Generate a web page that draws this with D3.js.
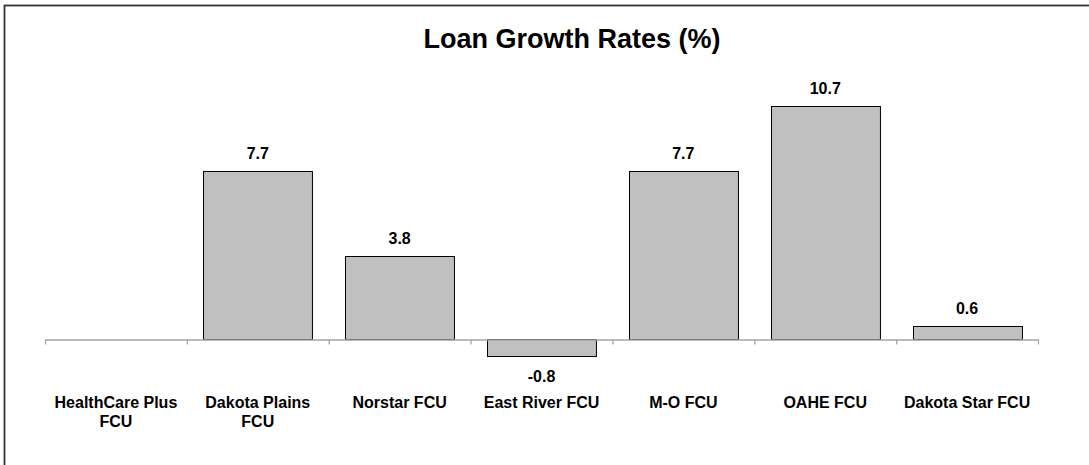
<!DOCTYPE html>
<html>
<head>
<meta charset="utf-8">
<script src="https://cdn.jsdelivr.net/npm/d3@7"></script>
<style>
  html, body { margin: 0; padding: 0; background: #fff; }
  svg { display: block; font-family: "Liberation Sans", Arial, sans-serif; }
</style>
</head>
<body>
<svg id="chart" width="1089" height="465"></svg>
<script>
const title = "Loan Growth Rates (%)";
const categories = [
  ["HealthCare Plus", "FCU"],
  ["Dakota Plains", "FCU"],
  ["Norstar FCU"],
  ["East River FCU"],
  ["M-O FCU"],
  ["OAHE FCU"],
  ["Dakota Star FCU"]
];
const values = [null, 7.7, 3.8, -0.8, 7.7, 10.7, 0.6];

const svg = d3.select("#chart");
const W = 1089, H = 465;

// outer chart border (right/bottom edges fall outside the picture)
svg.append("rect")
  .attr("x", 4.5).attr("y", 5.5)
  .attr("width", W + 10).attr("height", H + 10)
  .attr("fill", "none").attr("stroke", "#333").attr("stroke-width", 1.8);

const left = 45, right = 1038;
const keys = categories.map((c, i) => i);

const x = d3.scaleBand()
  .domain(keys)
  .range([left, right])
  .paddingInner(0.232)
  .paddingOuter(0.116);

const y = d3.scaleLinear()
  .domain([0, 10.7])
  .range([339, 106]);

const fmt = d3.formatLocale({ decimal: ".", thousands: ",", grouping: [3], currency: ["$", ""], minus: "-" }).format(".1f");

// title
svg.append("text")
  .attr("x", 572).attr("y", 48)
  .attr("text-anchor", "middle")
  .attr("font-size", 27).attr("font-weight", "bold")
  .attr("fill", "#000")
  .text(title);

// bars
const data = keys.map(i => ({ i, v: values[i] })).filter(d => d.v !== null);
svg.append("g").selectAll("rect")
  .data(data)
  .join("rect")
  .attr("x", d => Math.round(x(d.i)) + 0.5)
  .attr("y", d => Math.round(y(Math.max(0, d.v))) + 0.5)
  .attr("width", x.bandwidth())
  .attr("height", d => Math.abs(Math.round(y(d.v)) - Math.round(y(0))))
  .attr("fill", "#c0c0c0")
  .attr("stroke", "#000")
  .attr("stroke-width", 1);

// category axis with ticks at category boundaries
const idx = d3.scaleLinear().domain([0, categories.length]).range([left, right]);
const axis = svg.append("g")
  .attr("transform", `translate(0,${Math.round(y(0)) + 0.5})`)
  .call(d3.axisBottom(idx).tickValues(d3.range(categories.length + 1)).tickSize(5).tickSizeOuter(0).tickFormat(""));
axis.select(".domain").attr("stroke", "#a6a6a6").attr("stroke-width", 1.3);
axis.selectAll(".tick line").attr("stroke", "#a6a6a6").attr("stroke-width", 1.3);

// category labels
const labels = svg.append("g").selectAll("text")
  .data(keys)
  .join("text")
  .attr("text-anchor", "middle")
  .attr("font-size", 16).attr("font-weight", "bold")
  .attr("fill", "#000")
  .attr("x", i => x(i) + x.bandwidth() / 2)
  .attr("y", 408);
labels.selectAll("tspan")
  .data(i => categories[i].map(t => ({ t, cx: x(i) + x.bandwidth() / 2 })))
  .join("tspan")
  .attr("x", d => d.cx)
  .attr("dy", (d, j) => j === 0 ? 0 : 19)
  .text(d => d.t);

// value labels
svg.append("g").selectAll("text")
  .data(data)
  .join("text")
  .attr("text-anchor", "middle")
  .attr("font-size", 16).attr("font-weight", "bold")
  .attr("fill", "#000")
  .attr("x", d => x(d.i) + x.bandwidth() / 2)
  .attr("y", d => d.v >= 0 ? y(d.v) - 12 : y(d.v) + 26)
  .text(d => fmt(d.v));
</script>
</body>
</html>
